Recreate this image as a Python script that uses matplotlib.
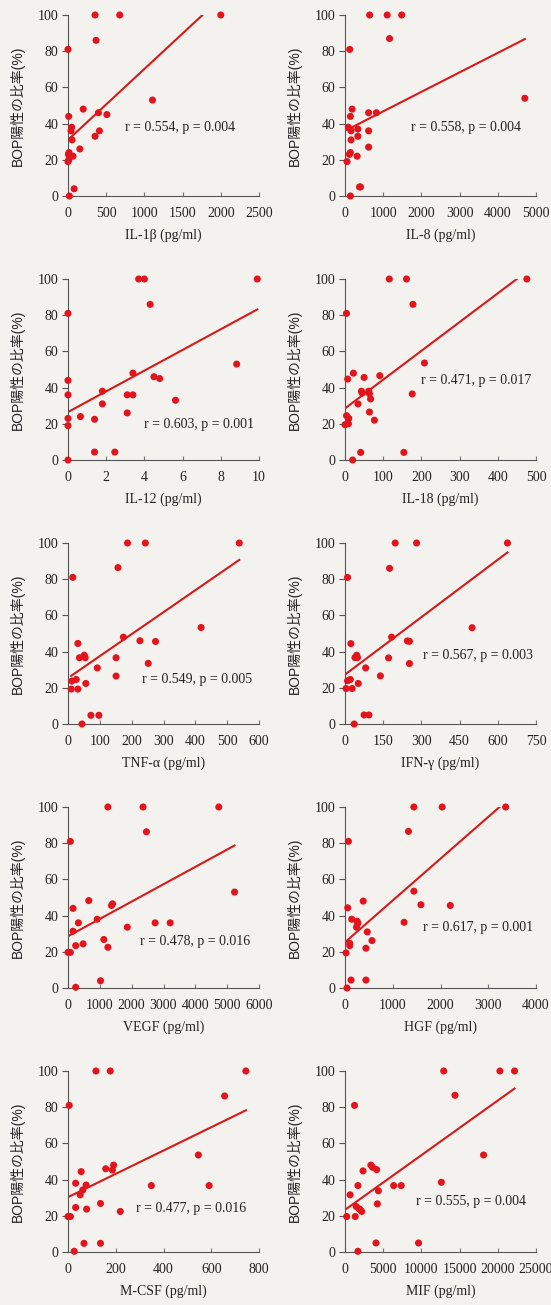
import matplotlib
matplotlib.use("Agg")
import matplotlib.pyplot as plt
import numpy as np

# ---------------- data ----------------
il1b_x = [0, 354, 677, 2000, 367, 1106, 199, 398, 509, 9, 40, 48, 411, 354, 53, 155, 5, 14, 66, 0, 10, 80, 18]
il1b_y = [81, 100, 100, 100, 86, 53, 48, 46, 45, 44, 36, 38, 36, 33, 31, 26, 23, 24, 22, 19, 20, 4, 0]
il1b_fit = (31.0, 0.0392)

il8_x = [124, 645, 1104, 1484, 1166, 4708, 186, 141, 618, 822, 88, 159, 336, 618, 336, 159, 618, 141, 115, 318, 53, 406, 380, 141]
il8_y = [81, 100, 100, 100, 87, 54, 48, 44, 46, 46, 38, 36, 37, 36, 33, 31, 27, 24, 23, 22, 19, 5, 5, 0]
il8_fit = (36.0, 0.01077)

il12_x = [0, 0, 0, 0, 0, 0, 0.65, 1.39, 1.39, 2.45, 1.8, 1.8, 3.1, 3.4, 3.1, 3.4, 3.7, 4.0, 4.3, 4.5, 4.8, 5.63, 8.83, 9.91]
il12_y = [81, 44, 36, 23, 19, 0, 24, 22.5, 4.4, 4.4, 31, 38, 36, 36, 26, 48, 100, 100, 86, 46, 45, 33, 53, 100]
il12_fit = (26.5, 5.72)

il18_x = [0, 4, 7, 4, 10, 9, 20, 22, 34, 43, 45, 41, 50, 62, 64, 64, 67, 77, 91, 116, 161, 178, 176, 154, 208, 476]
il18_y = [19.5, 81, 44.7, 24.5, 23, 20, 0, 48, 31, 38, 37, 4.2, 45.6, 38, 36.6, 26.5, 33.7, 22, 46.6, 100, 100, 86, 36.5, 4.2, 53.6, 100]
il18_fit = (28.5, 0.159)

tnf_x = [15, 12, 26, 10, 31, 31, 36, 51, 54, 56, 44, 72, 97, 92, 151, 151, 157, 174, 187, 243, 226, 275, 252, 418, 538]
tnf_y = [81, 23.7, 24.6, 19.3, 19.3, 44.5, 36.6, 38, 36.6, 22.4, 0, 4.8, 4.8, 31, 36.6, 26.5, 86.4, 48, 100, 100, 46, 45.6, 33.5, 53.3, 100]
tnf_fit = (25.4, 0.1213)

ifn_x = [10, 4, 28, 10, 21, 23, 39, 46, 49, 52, 36, 75, 94, 81, 139, 171, 175, 183, 197, 281, 245, 253, 253, 499, 638]
ifn_y = [81, 19.6, 19.6, 23.9, 24.6, 44.4, 36.7, 38, 36.7, 22.4, 0, 5, 5, 31, 26.6, 36.5, 86, 48, 100, 100, 45.9, 45.7, 33.4, 53.2, 100]
ifn_fit = (27.3, 0.1058)

vegf_x = [74, 0, 74, 158, 158, 326, 242, 474, 242, 653, 916, 1021, 1126, 1253, 1253, 1368, 1400, 1863, 2358, 2463, 2737, 3210, 4737, 5232]
vegf_y = [81, 19.7, 19.7, 44, 31.4, 36, 23.4, 24.4, 0.4, 48.3, 38, 4, 26.8, 22.5, 100, 45.6, 46.5, 33.6, 100, 86.3, 36, 36, 100, 53]
vegf_fit = (28.6, 0.00958)

hgf_x = [71, 21, 57, 99, 99, 127, 42, 141, 254, 269, 240, 466, 381, 438, 565, 438, 1237, 1329, 1442, 1442, 1590, 2035, 2205, 3364]
hgf_y = [81, 19.4, 44.3, 24.7, 23.4, 4.4, 0, 38, 36.9, 35.8, 33.6, 31, 48, 22, 26.2, 4.4, 36.3, 86.5, 100, 53.5, 46, 100, 45.6, 100]
hgf_fit = (25.3, 0.02308)

mcsf_x = [5, 0, 10, 32, 32, 26, 55, 51, 62, 76, 78, 67, 117, 136, 136, 158, 177, 186, 191, 219, 349, 546, 591, 656, 745]
mcsf_y = [81, 19.6, 19.6, 38, 24.6, 0.4, 44.4, 31.6, 34.3, 37, 23.7, 4.8, 100, 26.8, 4.8, 46, 100, 45.3, 48, 22.4, 36.7, 53.6, 36.7, 86.2, 100]
mcsf_fit = (30.3, 0.0644)

mif_x = [223, 668, 1248, 1337, 1693, 1470, 1827, 2005, 2184, 1693, 2362, 3387, 3610, 4144, 4233, 4367, 4055, 6373, 7353, 9626, 12611, 12923, 14394, 18137, 20276, 22193]
mif_y = [19.6, 31.6, 81, 19.6, 36.7, 25.1, 23.9, 23.3, 22.4, 0.4, 44.8, 48, 46.8, 45.5, 26.6, 33.8, 5, 36.7, 36.7, 5, 38.5, 100, 86.6, 53.6, 100, 100]
mif_fit = (23.3, 0.00302)

x_labels = ["IL-1β (pg/ml)", "IL-8 (pg/ml)", "IL-12 (pg/ml)", "IL-18 (pg/ml)",
            "TNF-α (pg/ml)", "IFN-γ (pg/ml)", "VEGF (pg/ml)", "HGF (pg/ml)",
            "M-CSF (pg/ml)", "MIF (pg/ml)"]
stats_text = ["r = 0.554, p = 0.004", "r = 0.558, p = 0.004", "r = 0.603, p = 0.001",
              "r = 0.471, p = 0.017", "r = 0.549, p = 0.005", "r = 0.567, p = 0.003",
              "r = 0.478, p = 0.016", "r = 0.617, p = 0.001", "r = 0.477, p = 0.016",
              "r = 0.555, p = 0.004"]
x_ticks = [[0, 500, 1000, 1500, 2000, 2500], [0, 1000, 2000, 3000, 4000, 5000],
           [0, 2, 4, 6, 8, 10], [0, 100, 200, 300, 400, 500],
           [0, 100, 200, 300, 400, 500, 600], [0, 150, 300, 450, 600, 750],
           [0, 1000, 2000, 3000, 4000, 5000, 6000], [0, 1000, 2000, 3000, 4000],
           [0, 200, 400, 600, 800], [0, 5000, 10000, 15000, 20000, 25000]]
y_ticks = [0, 20, 40, 60, 80, 100]
y_label = "BOP陽性の比率(%)"

xs = [il1b_x, il8_x, il12_x, il18_x, tnf_x, ifn_x, vegf_x, hgf_x, mcsf_x, mif_x]
ys = [il1b_y, il8_y, il12_y, il18_y, tnf_y, ifn_y, vegf_y, hgf_y, mcsf_y, mif_y]
fits = [il1b_fit, il8_fit, il12_fit, il18_fit, tnf_fit, ifn_fit, vegf_fit, hgf_fit, mcsf_fit, mif_fit]

# ---------------- layout ----------------
W, H = 551, 1305
bg = "#f4f2ef"
red_dot = "#e3141c"
red_line = "#d61a1a"
txt = "#222222"
serif = ["Liberation Serif", "Noto Sans CJK JP"]
sans = ["Liberation Sans", "Noto Sans CJK JP"]

fig = plt.figure(figsize=(W / 100, H / 100), dpi=100, facecolor=bg)

col_left = [68, 345]
ax_w = 191
row_top = [15, 279, 543, 807, 1071]
ax_h = 181
text_pos = [(0.30, 0.376), (0.347, 0.38), (0.40, 0.198), (0.397, 0.44), (0.39, 0.246),
            (0.407, 0.38), (0.375, 0.257), (0.41, 0.335), (0.357, 0.243), (0.374, 0.278)]

for i in range(10):
    r, c = divmod(i, 2)
    left = col_left[c] / W
    bottom = 1 - (row_top[r] + ax_h) / H
    ax = fig.add_axes([left, bottom, ax_w / W, ax_h / H])
    ax.set_facecolor("none")
    xmax = x_ticks[i][-1]
    ax.set_xlim(0, xmax)
    ax.set_ylim(0, 100)
    ax.scatter(xs[i], ys[i], s=26, color=red_dot, edgecolors="none", zorder=3, clip_on=False)
    a, b = fits[i]
    lx = np.array([min(xs[i]), max(xs[i])], dtype=float)
    ax.plot(lx, a + b * lx, color=red_line, lw=1.5, zorder=2)
    for s in ["top", "right"]:
        ax.spines[s].set_visible(False)
    for s in ["left", "bottom"]:
        ax.spines[s].set_color("#555555")
        ax.spines[s].set_linewidth(0.8)
    ax.set_xticks(x_ticks[i])
    ax.set_yticks(y_ticks)
    ax.set_xticklabels([str(t) for t in x_ticks[i]], fontfamily="Liberation Serif", fontsize=10, color=txt)
    ax.set_yticklabels([str(t) for t in y_ticks], fontfamily="Liberation Serif", fontsize=10, color=txt)
    ax.tick_params(axis="y", direction="out", length=4, width=0.8, color="#555555", pad=3)
    ax.tick_params(axis="x", direction="in", length=3, width=0.8, color="#777777", pad=8)
    ax.set_xlabel(x_labels[i], fontfamily=serif, fontsize=10, labelpad=6, color=txt)
    ax.set_ylabel(y_label, fontfamily=sans, fontsize=10, labelpad=9, color=txt)
    ax.text(text_pos[i][0], text_pos[i][1], stats_text[i], transform=ax.transAxes,
            ha="left", va="center", fontfamily="Liberation Serif", fontsize=10, color=txt)

fig.savefig("out.png", dpi=100, facecolor=bg)
